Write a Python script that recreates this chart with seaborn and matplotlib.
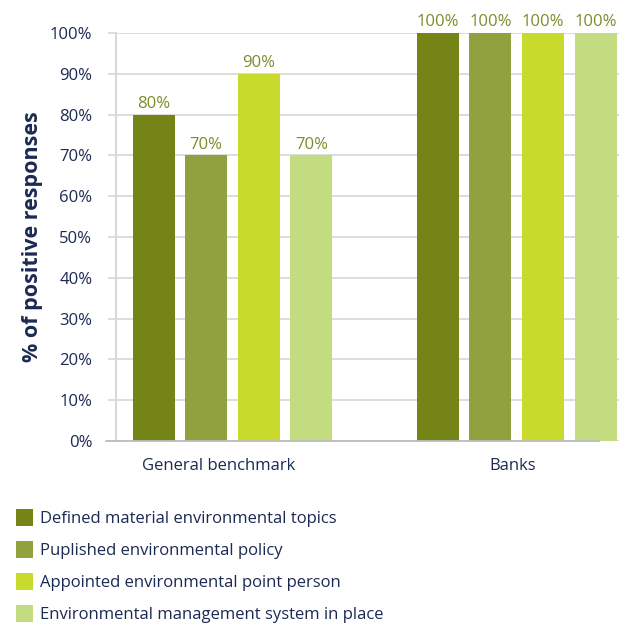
import matplotlib
matplotlib.use("Agg")
import matplotlib.pyplot as plt
import matplotlib.transforms as mtransforms
from matplotlib.ticker import FuncFormatter
import pandas as pd
import seaborn as sns

# Survey results: share of positive responses per group and measure
groups = ["General benchmark", "Banks"]
measures = [
    "Defined material environmental topics",
    "Puplished environmental policy",
    "Appointed environmental point person",
    "Environmental management system in place",
]
general_benchmark = [80, 70, 90, 70]
banks = [100, 100, 100, 100]
y_ticks = [0, 10, 20, 30, 40, 50, 60, 70, 80, 90, 100]

colors = ["#758416", "#91a13f", "#c8da2c", "#c4dc80"]
navy = "#1b2a52"
olive_text = "#7d8c2a"

df = pd.DataFrame({
    "group": [g for g in groups for _ in measures],
    "measure": measures * len(groups),
    "value": general_benchmark + banks,
})

sns.set_theme(style="white")
plt.rcParams["font.family"] = ["Open Sans", "DejaVu Sans"]

W, H = 619, 625
fig = plt.figure(figsize=(W / 100, H / 100), dpi=100)
ax = fig.add_axes([116 / W, 1 - 441 / H, (W - 116) / W, (441 - 33) / H])

sns.barplot(
    data=df, x="group", y="value", hue="measure",
    order=groups, hue_order=measures, palette=colors,
    width=0.74, gap=0.2, saturation=1, linewidth=0, edgecolor="none",
    ax=ax, legend=True,
)

ax.set_xlim(-0.41, 1.36)
ax.set_ylim(0, 100)
ax.set_yticks(y_ticks)
ax.yaxis.set_major_formatter(FuncFormatter(lambda v, p: f"{v:.0f}%"))
ax.yaxis.grid(True, color="#d3d3d3", linewidth=1.1)
ax.set_axisbelow(True)
ax.tick_params(axis="y", length=6, width=1.1, color="#d3d3d3", pad=11,
               labelsize=12, labelcolor=navy, left=True)
ax.tick_params(axis="x", length=0, pad=12, labelsize=12, labelcolor=navy)

for side in ["top", "right"]:
    ax.spines[side].set_visible(False)
ax.spines["left"].set_color("#d8d8d8")
ax.spines["left"].set_linewidth(1.5)
ax.spines["bottom"].set_color("#bdbdbd")
ax.spines["bottom"].set_linewidth(1.3)
ax.spines["bottom"].set_bounds(-0.445, 1.29)

ax.set_xlabel("")
ax.set_ylabel("% of positive responses", fontsize=15.5, fontweight="bold",
              color=navy, labelpad=5)

# nudge the category names to sit slightly left of the bar groups
for lbl, dx in zip(ax.get_xticklabels(), [-14, -4]):
    lbl.set_transform(lbl.get_transform() +
                      mtransforms.ScaledTranslation(dx / 100, 0, fig.dpi_scale_trans))

for cont in ax.containers:
    ax.bar_label(cont, labels=[f"{v:.0f}%" for v in cont.datavalues],
                 padding=2, fontsize=12, color=olive_text)

handles, labels = ax.get_legend_handles_labels()
ax.get_legend().remove()
fig.legend(
    handles, labels, loc="upper left", bbox_to_anchor=(9 / W, 1 - 502 / H),
    frameon=False, fontsize=12, labelcolor=navy, handlelength=1.05,
    handleheight=1.2, handletextpad=0.4, labelspacing=0.83, borderaxespad=0,
)

fig.savefig("out.png", dpi=100)
